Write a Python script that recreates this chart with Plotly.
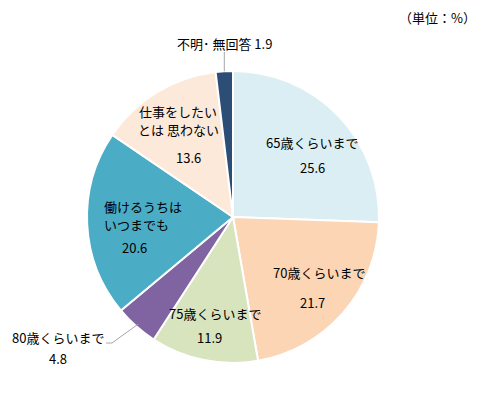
import math
import plotly.graph_objects as go

categories = ["65歳くらいまで", "70歳くらいまで", "75歳くらいまで", "80歳くらいまで",
              "働けるうちはいつまでも", "仕事をしたいとは思わない", "不明・無回答"]
values = [25.6, 21.7, 11.9, 4.8, 20.6, 13.6, 1.9]
value_labels = ["25.6", "21.7", "11.9", "4.8", "20.6", "13.6", "1.9"]
colors = ["#DAEEF3", "#FCD5B5", "#D7E4BD", "#8064A2", "#4BACC6", "#FDE9D9", "#2C4D75"]

W, H = 499, 395
OFF = 8  # page body margin
CX, CY, R = 233, 217, 146
FONT = "Noto Sans CJK JP, Noto Sans, sans-serif"

def px(x):
    return (x - OFF) / W

def py(y):
    return 1 - (y - OFF) / H

fig = go.Figure(go.Pie(
    labels=categories, values=values, sort=False, direction="clockwise", rotation=0,
    marker=dict(colors=colors, line=dict(color="white", width=2)),
    textinfo="none", hoverinfo="label+value", showlegend=False,
    domain=dict(x=[px(CX - R), px(CX + R)], y=[py(CY + R), py(CY - R)]),
))

total = sum(values)

def edge_point(i, rr=1.0):
    start = sum(values[:i])
    mid = (start + values[i] / 2) / total * 2 * math.pi
    return CX + R * rr * math.sin(mid), CY - R * rr * math.cos(mid)

annos = []
def add(text, x, y, xanchor="center"):
    annos.append(dict(text=text, x=px(x), y=py(y), xref="paper", yref="paper",
                      showarrow=False, xanchor=xanchor, yanchor="middle",
                      font=dict(family=FONT, size=13, color="black")))

# inside labels
add(categories[0], 312, 142); add(value_labels[0], 312, 168)
add(categories[1], 319, 272); add(value_labels[1], 312, 302)
add(categories[2], 215, 313); add(value_labels[2], 209, 337)
add("働けるうちは", 102, 206, xanchor="left"); add("いつまでも", 102, 224, xanchor="left")
add(value_labels[4], 135, 247)
add("仕事をしたい", 178, 111); add("とは 思わない", 178, 129)
add(value_labels[5], 188, 157)
# outside labels
add(categories[3], 58, 337); add(value_labels[3], 58, 358)
add("不明･ 無回答 " + value_labels[6], 224, 43)
add("（単位：%）", 437, 17)

fig.update_layout(annotations=annos)

# leader lines
ex, ey = edge_point(6)
fig.add_shape(type="line", xref="paper", yref="paper", x0=px(ex), y0=py(ey), x1=px(ex), y1=py(52),
              line=dict(color="#A6A6A6", width=1))
ex, ey = edge_point(3, 0.98)
fig.add_shape(type="path", xref="paper", yref="paper",
              path=f"M {px(106)} {py(343)} L {px(112)} {py(343)} L {px(ex)} {py(ey)}",
              line=dict(color="#A6A6A6", width=1))

fig.update_layout(width=W, height=H, margin=dict(l=0, r=0, t=0, b=0),
                  paper_bgcolor="white", plot_bgcolor="white")
fig.write_html("out.html")
